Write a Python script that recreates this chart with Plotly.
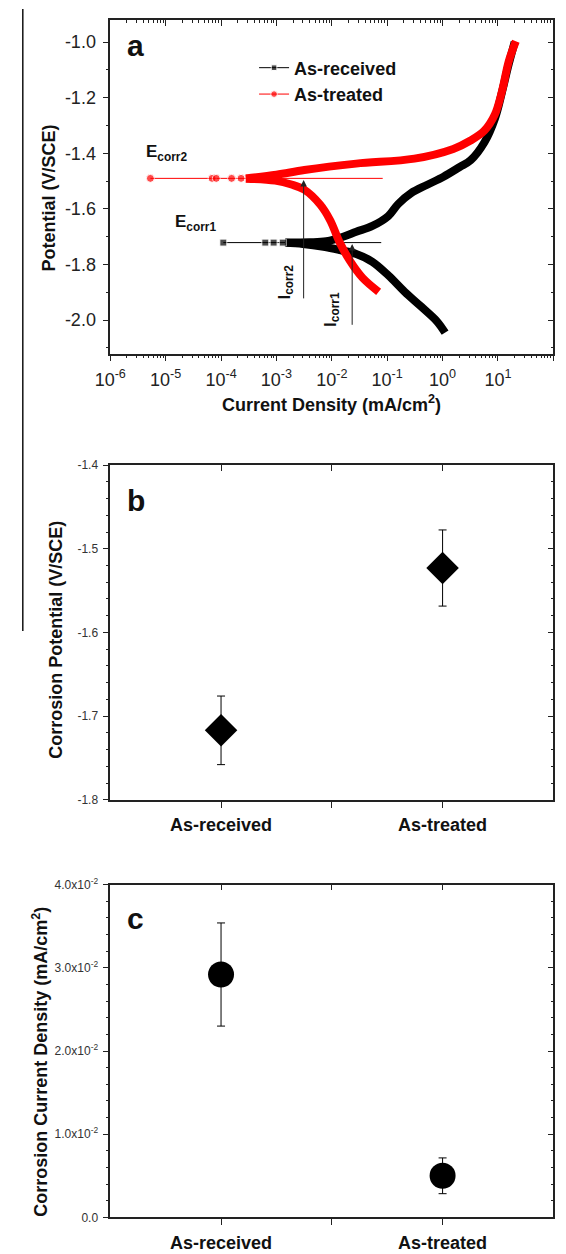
import math
import plotly.graph_objects as go

W, H = 566, 1254
FONT = "Liberation Sans, Arial, sans-serif"

# ---------------- Panel a : polarization curves ----------------
ar_cath_x = [1.43e-3, 3.0e-3, 7.1e-3, 1.4e-2, 2.76e-2, 5.4e-2, 0.105, 0.207, 0.41, 0.79, 1.11]
ar_cath_y = [-1.722, -1.726, -1.736, -1.748, -1.762, -1.790, -1.839, -1.898, -1.951, -2.004, -2.045]
ar_anod_x = [1.43e-3, 4.0e-3, 8.0e-3, 1.6e-2, 2.76e-2, 5.4e-2, 0.105, 0.158, 0.27, 0.53, 1.04,
             2.04, 3.2, 5.7, 8.8, 11.8, 15.6, 20.0]
ar_anod_y = [-1.721, -1.720, -1.716, -1.700, -1.682, -1.661, -1.625, -1.582, -1.543, -1.513, -1.484,
             -1.449, -1.425, -1.360, -1.275, -1.180, -1.080, -1.000]
ar_ecorr_x = [1.1e-4, 6.3e-4, 8.9e-4, 1.3e-3, 7.8e-2]
ar_ecorr_y = [-1.721, -1.721, -1.721, -1.721, -1.721]

at_cath_x = [2.8e-4, 9.5e-4, 1.87e-3, 3.2e-3, 6.2e-3, 9.3e-3, 1.4e-2, 2.1e-2, 3.6e-2, 7.0e-2]
at_cath_y = [-1.491, -1.498, -1.512, -1.531, -1.585, -1.640, -1.722, -1.785, -1.848, -1.898]
at_anod_x = [2.8e-4, 1.0e-3, 3.2e-3, 2.75e-2, 0.31, 1.56, 3.2, 5.7, 8.8, 11.8, 15.6, 21.0]
at_anod_y = [-1.490, -1.477, -1.460, -1.437, -1.419, -1.384, -1.354, -1.318, -1.260, -1.177, -1.070, -0.997]
at_ecorr_x = [5.3e-6, 6.9e-5, 8.2e-5, 1.55e-4, 2.3e-4, 8.3e-2]
at_ecorr_y = [-1.490, -1.490, -1.490, -1.490, -1.490, -1.490]

icorr2_x, icorr2_y0, icorr2_y1 = 3.1e-3, -1.927, -1.496
icorr1_x, icorr1_y0, icorr1_y1 = 2.33e-2, -2.022, -1.726

xa_tickvals = [1e-6, 1e-5, 1e-4, 1e-3, 1e-2, 1e-1, 1e0, 1e1, 1e2]
xa_ticktext = ["10<sup>-6</sup>", "10<sup>-5</sup>", "10<sup>-4</sup>", "10<sup>-3</sup>",
               "10<sup>-2</sup>", "10<sup>-1</sup>", "10<sup>0</sup>", "10<sup>1</sup>", "10<sup>2</sup>"]
ya_tickvals = [-2.0, -1.8, -1.6, -1.4, -1.2, -1.0]
ya_ticktext = ["-2.0", "-1.8", "-1.6", "-1.4", "-1.2", "-1.0"]

# ---------------- Panel b : corrosion potential ----------------
samples = ["As-received", "As-treated"]
ecorr_mean = [-1.717, -1.523]
ecorr_err = [0.041, 0.0455]
b_tickvals = [-1.8, -1.7, -1.6, -1.5, -1.4]
b_ticktext = ["-1.8", "-1.7", "-1.6", "-1.5", "-1.4"]

# ---------------- Panel c : corrosion current density ----------------
icorr_mean = [2.92e-2, 0.50e-2]
icorr_err = [0.62e-2, 0.215e-2]
c_tickvals = [0.0, 0.01, 0.02, 0.03, 0.04]
c_ticktext = ["0.0", "1.0x10<sup>-2</sup>", "2.0x10<sup>-2</sup>", "3.0x10<sup>-2</sup>", "4.0x10<sup>-2</sup>"]


def px(x):
    return x / W


def py(y):
    return 1 - y / H


XDOM = [px(97), px(553)]
DOM_A = [py(349), py(11)]
DOM_B = [py(801), py(462)]
DOM_C = [py(1224), py(887)]

RED = "#ff0000"
BLK = "#000000"

fig = go.Figure()

# panel a traces
for xs, ys, col in [(ar_cath_x, ar_cath_y, BLK), (ar_anod_x, ar_anod_y, BLK)]:
    fig.add_trace(go.Scatter(x=xs, y=ys, mode="lines", line=dict(color=col, width=8, shape="spline"),
                             showlegend=False, hoverinfo="skip", xaxis="x", yaxis="y"))
fig.add_trace(go.Scatter(x=ar_ecorr_x, y=ar_ecorr_y, mode="lines+markers", name="<b>As-received</b>",
                         line=dict(color=BLK, width=1),
                         marker=dict(symbol="square", size=[7, 7, 7, 7, 0], color=BLK),
                         xaxis="x", yaxis="y"))
for xs, ys, col in [(at_cath_x, at_cath_y, RED), (at_anod_x, at_anod_y, RED)]:
    fig.add_trace(go.Scatter(x=xs, y=ys, mode="lines", line=dict(color=col, width=8, shape="spline"),
                             showlegend=False, hoverinfo="skip", xaxis="x", yaxis="y"))
fig.add_trace(go.Scatter(x=at_ecorr_x, y=at_ecorr_y, mode="lines+markers", name="<b>As-treated</b>",
                         line=dict(color=RED, width=1),
                         marker=dict(symbol="circle", size=[8, 8, 8, 8, 8, 0], color=RED),
                         xaxis="x", yaxis="y"))

# panel b
fig.add_trace(go.Scatter(x=[1, 2], y=ecorr_mean, mode="markers", showlegend=False,
                         marker=dict(symbol="diamond", size=25, color=BLK),
                         error_y=dict(type="data", array=ecorr_err, thickness=1, width=4, color=BLK),
                         xaxis="x2", yaxis="y2"))
# panel c
fig.add_trace(go.Scatter(x=[1, 2], y=icorr_mean, mode="markers", showlegend=False,
                         marker=dict(symbol="circle", size=26, color=BLK),
                         error_y=dict(type="data", array=icorr_err, thickness=1, width=4, color=BLK),
                         xaxis="x3", yaxis="y3"))

# empty traces to activate the mirror (top / right) axes
for xa, ya in [("x4", "y4"), ("x5", "y5"), ("x6", "y6")]:
    fig.add_trace(go.Scatter(x=[], y=[], showlegend=False, hoverinfo="skip", xaxis=xa, yaxis=ya))

AX = dict(showline=True, linecolor="#222", linewidth=1.5, showgrid=False, zeroline=False,
          ticks="outside", ticklen=6, tickwidth=1, tickcolor="#222")
MIR = dict(showline=True, linecolor="#222", linewidth=1.5, showgrid=False, zeroline=False,
           ticks="inside", ticklen=6, tickwidth=1, tickcolor="#222", showticklabels=False)

minor_log = [m * 10.0 ** e for e in range(-6, 2) for m in range(2, 10)]
tf_a = dict(family=FONT, size=18, color="#222")
tf_s = dict(family=FONT, size=12, color="#333")
tf_cat = dict(family=FONT, size=18, color="#111")

layout = dict(
    width=W, height=H, margin=dict(l=0, r=0, t=0, b=0),
    paper_bgcolor="white", plot_bgcolor="white",
    font=dict(family=FONT, color="#111"),
    xaxis=dict(AX, domain=XDOM, anchor="y", type="log", range=[-6, 2], tickmode="array",
               tickvals=xa_tickvals, ticktext=xa_ticktext, tickfont=tf_a, ticklabelstandoff=3,
               minor=dict(tickvals=minor_log, ticks="outside", ticklen=3, tickcolor="#222")),
    yaxis=dict(AX, domain=DOM_A, anchor="x", range=[-2.12, -0.92], tickmode="array",
               tickvals=ya_tickvals, ticktext=ya_ticktext, tickfont=tf_a, ticklabelstandoff=3,
               minor=dict(dtick=0.1, tick0=-2.0, ticks="outside", ticklen=3, tickcolor="#222")),
    xaxis4=dict(MIR, overlaying="x", anchor="y", side="top", type="log", range=[-6, 2], tickmode="array",
                tickvals=xa_tickvals,
                minor=dict(tickvals=minor_log, ticks="inside", ticklen=3, tickcolor="#222")),
    yaxis4=dict(MIR, overlaying="y", anchor="x", side="right", range=[-2.12, -0.92], dtick=0.2, tick0=-2.0,
                minor=dict(dtick=0.1, tick0=-2.0, ticks="inside", ticklen=3, tickcolor="#222")),

    xaxis2=dict(AX, domain=XDOM, anchor="y2", range=[0.5, 2.5], tickmode="array", tickvals=[1, 1.5, 2],
                ticktext=["<b>" + samples[0] + "</b>", "", "<b>" + samples[1] + "</b>"],
                tickfont=tf_cat, ticklabelstandoff=2),
    yaxis2=dict(AX, domain=DOM_B, anchor="x2", range=[-1.8, -1.4], tickmode="array",
                tickvals=b_tickvals, ticktext=b_ticktext, tickfont=tf_s, ticklabelstandoff=2,
                minor=dict(dtick=0.02, tick0=-1.8, ticks="outside", ticklen=3, tickcolor="#222")),
    xaxis5=dict(MIR, overlaying="x2", anchor="y2", side="top", range=[0.5, 2.5], tickmode="array",
                tickvals=[1, 1.5, 2]),
    yaxis5=dict(MIR, overlaying="y2", anchor="x2", side="right", range=[-1.8, -1.4], dtick=0.1, tick0=-1.8,
                minor=dict(dtick=0.02, tick0=-1.8, ticks="inside", ticklen=3, tickcolor="#222")),

    xaxis3=dict(AX, domain=XDOM, anchor="y3", range=[0.5, 2.5], tickmode="array", tickvals=[1, 1.5, 2],
                ticktext=["<b>" + samples[0] + "</b>", "", "<b>" + samples[1] + "</b>"],
                tickfont=tf_cat, ticklabelstandoff=2),
    yaxis3=dict(AX, domain=DOM_C, anchor="x3", range=[0, 0.04], tickmode="array",
                tickvals=c_tickvals, ticktext=c_ticktext, tickfont=tf_s, ticklabelstandoff=2,
                minor=dict(dtick=0.002, tick0=0, ticks="outside", ticklen=3, tickcolor="#222")),
    xaxis6=dict(MIR, overlaying="x3", anchor="y3", side="top", range=[0.5, 2.5], tickmode="array",
                tickvals=[1, 1.5, 2]),
    yaxis6=dict(MIR, overlaying="y3", anchor="x3", side="right", range=[0, 0.04], dtick=0.01, tick0=0,
                minor=dict(dtick=0.002, tick0=0, ticks="inside", ticklen=3, tickcolor="#222")),

    legend=dict(x=px(245), y=py(41), xanchor="left", yanchor="top", bgcolor="rgba(0,0,0,0)",
                font=dict(family=FONT, size=18, color="#111"), tracegroupgap=0),
)
fig.update_layout(layout)

ann = []


def txt(text, x, y, size, angle=0, xanchor="center", yanchor="middle", color="#111"):
    ann.append(dict(text=text, x=px(x), y=py(y), xref="paper", yref="paper", showarrow=False,
                    font=dict(family=FONT, size=size, color=color), textangle=angle,
                    xanchor=xanchor, yanchor=yanchor))


# panel labels
txt("<b>a</b>", 123, 37, 30)
txt("<b>b</b>", 123, 498, 30)
txt("<b>c</b>", 123, 921, 30)
# axis titles
txt("<b>Potential (V/SCE)</b>", 34, 192, 18, angle=-90)
txt("<b>Current Density (mA/cm<sup>2</sup>)</b>", 325, 400, 18)
txt("<b>Corrosion Potential (V/SCE)</b>", 41, 639, 18, angle=-90)
txt("<b>Corrosion Current Density (mA/cm<sup>2</sup>)</b>", 25, 1066, 18, angle=-90)
# E_corr labels
txt("<b>E<sub>corr2</sub></b>", 132, 146, 17, xanchor="left")
txt("<b>E<sub>corr1</sub></b>", 162, 217, 17, xanchor="left")
# I_corr labels
txt("<b>I<sub>corr2</sub></b>", 278, 277, 17, angle=-90)
txt("<b>I<sub>corr1</sub></b>", 325, 304, 17, angle=-90)

for xv, y0, y1 in [(icorr2_x, icorr2_y0, icorr2_y1), (icorr1_x, icorr1_y0, icorr1_y1)]:
    ann.append(dict(x=math.log10(xv), y=y1, xref="x", yref="y", ax=math.log10(xv), ay=y0,
                    axref="x", ayref="y", showarrow=True, arrowhead=2, arrowsize=1.3, arrowwidth=1,
                    arrowcolor="#222", text=""))

fig.update_layout(annotations=ann)

# thin vertical border line at the far left of the original figure
fig.add_shape(type="line", xref="paper", yref="paper", x0=px(7), x1=px(7), y0=py(0), y1=py(630),
              line=dict(color="#111", width=1.5))

fig.write_html("out.html")
